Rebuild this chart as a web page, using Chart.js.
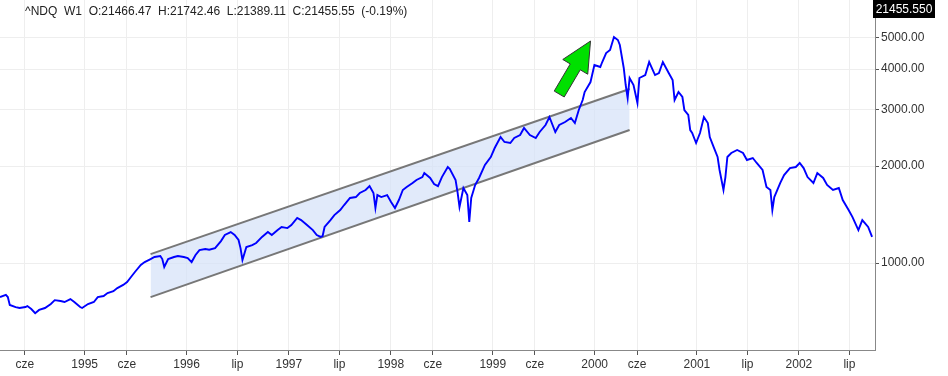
<!DOCTYPE html>
<html>
<head>
<meta charset="utf-8">
<script src="https://cdn.jsdelivr.net/npm/chart.js@4/dist/chart.umd.min.js"></script>
<style>
html,body{margin:0;padding:0;background:#fff;}
canvas{display:block;}
</style>
</head>
<body>
<canvas id="c" width="948" height="376"></canvas>
<script>
// ---- data (weekly closes, week index counted from startDate) ----
const startDate = '1994-03-04';
const tickDates = ['1994-06-01','1995-01-01','1995-06-01','1996-01-01','1996-07-01','1997-01-01','1997-07-01','1998-01-01','1998-06-01','1999-01-01','1999-06-01','2000-01-01','2000-06-01','2001-01-01','2001-07-01','2002-01-01','2002-07-01'];
const tickLabels = ['cze','1995','cze','1996','lip','1997','lip','1998','cze','1999','cze','2000','cze','2001','lip','2002','lip'];
const yTickValues = [1000, 2000, 3000, 4000, 5000];

const weeks = [0,3,4,5,8,10,13,14,16,18,20,23,26,28,31,33,36,38,41,42,45,48,50,53,55,58,60,63,65,67,69,72,74,77,79,82,83,84,86,89,91,94,96,98,100,102,105,107,110,113,115,118,120,122,123,124,126,129,131,134,137,139,142,144,147,149,152,154,157,160,162,164,165,166,169,171,174,176,179,182,184,187,189,191,192,193,195,198,200,202,204,206,208,211,213,216,217,220,222,224,226,229,230,233,234,235,237,239,240,241,243,245,248,251,253,256,258,261,263,266,268,271,274,276,279,281,284,286,289,292,294,296,298,299,302,304,307,308,310,312,314,316,317,319,320,321,322,324,326,327,330,332,335,337,339,342,344,345,347,349,350,352,353,354,356,358,360,362,363,365,367,368,370,371,372,374,377,380,382,385,387,390,392,394,395,396,399,401,404,407,409,411,413,416,418,421,423,426,429,431,434,436,439,441,444,446];
const closes = [784,796,784,741,730,725,730,735,720,699,715,725,746,767,762,757,773,757,730,725,746,757,784,790,807,818,836,855,873,905,938,986,1007,1029,1044,1051,1029,972,1029,1044,1051,1044,1036,1007,1059,1097,1105,1100,1113,1170,1222,1248,1222,1179,1113,1022,1121,1137,1154,1205,1248,1222,1266,1294,1284,1312,1380,1360,1312,1266,1222,1205,1213,1294,1360,1409,1461,1514,1592,1603,1650,1686,1734,1650,1482,1626,1603,1626,1547,1482,1569,1686,1722,1772,1811,1849,1903,1837,1760,1734,1849,1987,1960,1811,1661,1493,1710,1626,1341,1592,1747,1837,2016,2134,2276,2462,2376,2359,2445,2498,2626,2498,2445,2552,2683,2841,2552,2683,2741,2820,2721,2987,3208,3397,3648,4120,4062,4209,4488,4586,5034,4926,4754,4033,3571,3254,3754,3571,3140,3754,3835,4209,3835,3891,4209,3891,3701,3208,3397,3278,2987,2882,2588,2534,2359,2534,2841,2721,2462,2292,2134,1945,1686,1849,2134,2196,2244,2196,2089,2119,2045,1945,1722,1686,1461,1603,1772,1876,1972,1987,2045,1972,1849,1772,1903,1837,1747,1686,1710,1569,1461,1389,1266,1360,1294,1205];

// trend channel (annotation)
const channelWeeks = [77, 322];
const channelUpper = [1066, 3471];
const channelLower = [784, 2588];
// arrow annotation (tail -> tip)
const arrowWeeks = [286, 302];
const arrowValues = [3348, 4891];

const titleText = '^NDQ  W1  O:21466.47  H:21742.46  L:21389.11  C:21455.55  (-0.19%)';
const lastPriceText = '21455.550';

// ---- helpers ----
const DAY = 86400000;
const t0 = Date.parse(startDate + 'T00:00:00Z');
const tickWeeks = tickDates.map(d => (Date.parse(d + 'T00:00:00Z') - t0) / DAY / 7);
const FONT = '"Liberation Sans", Arial, sans-serif';

const lineData = weeks.map((w, i) => ({x: w, y: closes[i]}));
const upperData = channelWeeks.map((w, i) => ({x: w, y: channelUpper[i]}));
const lowerData = channelWeeks.map((w, i) => ({x: w, y: channelLower[i]}));

const overlay = {
  id: 'overlay',
  afterDatasetsDraw(chart) {
    const ctx = chart.ctx, xs = chart.scales.x, ys = chart.scales.y;
    const tx = xs.getPixelForValue(arrowWeeks[0]), ty = ys.getPixelForValue(arrowValues[0]);
    const hx = xs.getPixelForValue(arrowWeeks[1]), hy = ys.getPixelForValue(arrowValues[1]);
    const dx = hx - tx, dy = hy - ty, len = Math.hypot(dx, dy);
    const ux = dx / len, uy = dy / len, nx = -uy, ny = ux;
    const headLen = 30, headHalf = 14.5, shaftHalf = 5.8;
    const bx = hx - ux * headLen, by = hy - uy * headLen;
    ctx.save();
    ctx.beginPath();
    ctx.moveTo(hx, hy);
    ctx.lineTo(bx + nx * headHalf, by + ny * headHalf);
    ctx.lineTo(bx + nx * shaftHalf, by + ny * shaftHalf);
    ctx.lineTo(tx + nx * shaftHalf, ty + ny * shaftHalf);
    ctx.lineTo(tx - nx * shaftHalf, ty - ny * shaftHalf);
    ctx.lineTo(bx - nx * shaftHalf, by - ny * shaftHalf);
    ctx.lineTo(bx - nx * headHalf, by - ny * headHalf);
    ctx.closePath();
    ctx.fillStyle = '#00e000';
    ctx.fill();
    ctx.lineWidth = 1;
    ctx.strokeStyle = '#333333';
    ctx.stroke();
    ctx.restore();
  },
  afterDraw(chart) {
    const ctx = chart.ctx;
    ctx.save();
    ctx.font = '12px ' + FONT;
    ctx.fillStyle = '#222222';
    ctx.textBaseline = 'middle';
    ctx.textAlign = 'left';
    ctx.fillText(titleText, 25, 12);
    const right = chart.chartArea.right;
    ctx.fillStyle = '#000000';
    ctx.fillRect(right - 2, 0, 62, 18);
    ctx.fillStyle = '#ffffff';
    ctx.textAlign = 'center';
    ctx.fillText(lastPriceText, right + 29, 9.5);
    ctx.restore();
  }
};

new Chart(document.getElementById('c'), {
  type: 'line',
  data: {
    datasets: [
      {
        data: upperData, borderColor: '#777777', borderWidth: 2, pointRadius: 0,
        fill: '+1', backgroundColor: 'rgba(214,226,248,0.72)', order: 3
      },
      {
        data: lowerData, borderColor: '#777777', borderWidth: 2, pointRadius: 0,
        fill: false, order: 2
      },
      {
        data: lineData, borderColor: '#0000ff', borderWidth: 1.9, pointRadius: 0,
        fill: false, tension: 0, order: 1
      }
    ]
  },
  options: {
    responsive: false,
    animation: false,
    devicePixelRatio: 1,
    layout: {padding: 0},
    plugins: {legend: {display: false}, tooltip: {enabled: false}, title: {display: false}},
    scales: {
      x: {
        type: 'linear', min: 0, max: 447.5,
        grid: {color: '#eeeeee', tickColor: '#555555', tickLength: 5, drawTicks: true},
        border: {display: true, color: '#888888', width: 1},
        ticks: {
          autoSkip: false, maxRotation: 0, minRotation: 0, padding: 2,
          color: '#333333', font: {family: FONT, size: 12},
          callback: (v, i) => tickLabels[i]
        },
        afterBuildTicks: s => { s.ticks = tickWeeks.map(v => ({value: v})); },
        afterFit: s => { s.height = 26; s.paddingLeft = 0; s.paddingRight = 0; }
      },
      y: {
        type: 'logarithmic', position: 'right', min: 537, max: 6558,
        grid: {color: '#eeeeee', tickColor: '#555555', tickLength: 4, drawTicks: true},
        border: {display: true, color: '#888888', width: 1},
        ticks: {
          color: '#333333', font: {family: FONT, size: 12}, padding: 2,
          callback: v => Number(v).toFixed(2)
        },
        afterBuildTicks: s => { s.ticks = yTickValues.map(v => ({value: v})); },
        afterFit: s => { s.width = 73; s.paddingTop = 0; s.paddingBottom = 0; }
      }
    }
  },
  plugins: [overlay]
});
</script>
</body>
</html>
